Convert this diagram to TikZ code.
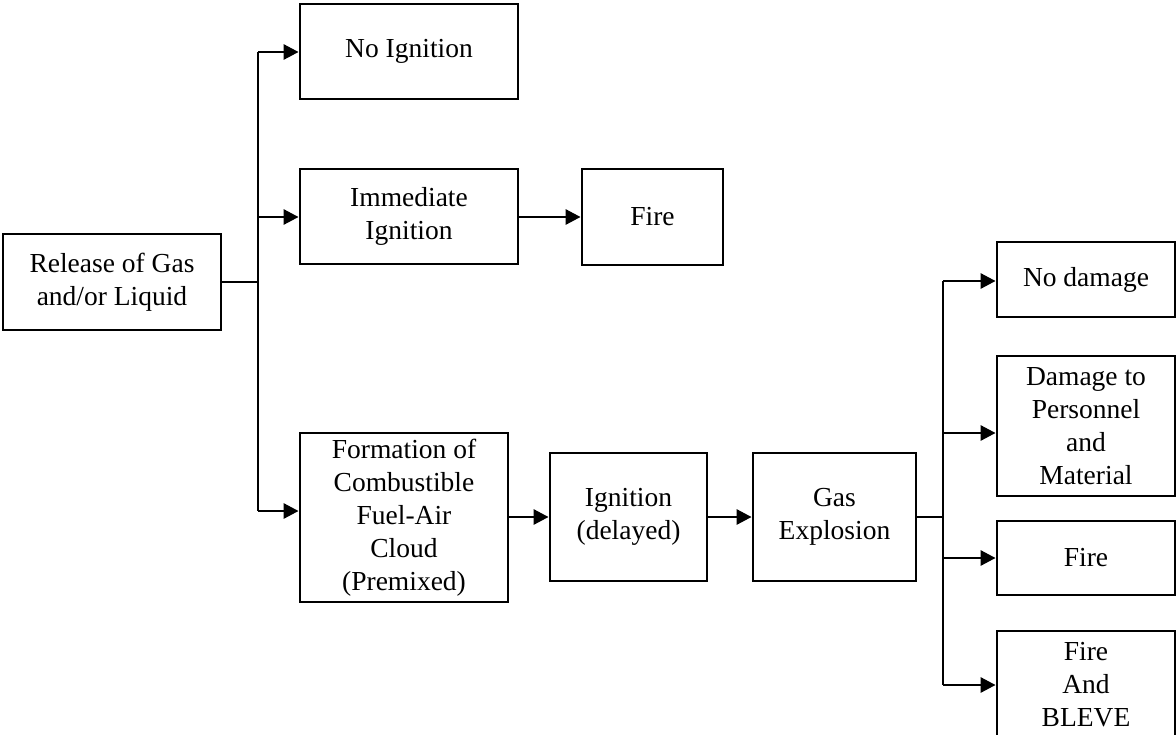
\documentclass[tikz,border=0pt]{standalone}
\usepackage{fontspec}
\setmainfont{Liberation Serif}
\usetikzlibrary{arrows.meta,positioning}

\tikzset{
  box/.style={draw, line width=2.8pt, rectangle, inner sep=0pt, align=center,
    font=\fontsize{27.5}{33}\selectfont},
  link/.style={line width=2.8pt},
  arrowlink/.style={line width=2.8pt, -{Triangle[length=15pt,width=15pt]}}
}

\begin{document}
\begin{tikzpicture}[x=1pt, y=-1pt]
  \fill[white] (0,0) rectangle (1176,734);
  \useasboundingbox (0,0) rectangle (1176,734);

  % event boxes
  \node[box, minimum width=218pt, minimum height=96pt] (rel) at (112,282)
    {Release of Gas\\and/or Liquid};
  \node[box, minimum width=218pt, minimum height=95pt] (noign) at (409,51.5)
    {No Ignition};
  \node[box, minimum width=218pt, minimum height=95pt] (immed) at (409,216.5)
    {Immediate\\Ignition};
  \node[box, minimum width=141pt, minimum height=96pt] (fireA) at (652.5,217)
    {Fire};
  \node[box, minimum width=208pt, minimum height=169pt] (form) at (404,517.5)
    {Formation of\\Combustible\\Fuel-Air\\Cloud\\(Premixed)};
  \node[box, minimum width=157pt, minimum height=128pt] (igdel) at (628.5,517)
    {Ignition\\(delayed)};
  \node[box, minimum width=163pt, minimum height=128pt] (gasx) at (834.5,517)
    {Gas\\Explosion};
  \node[box, minimum width=178pt, minimum height=75pt] (nodam) at (1086,279.5)
    {No damage};
  \node[box, minimum width=178pt, minimum height=140pt] (dam) at (1086,426)
    {Damage to\\Personnel\\and\\Material};
  \node[box, minimum width=178pt, minimum height=74pt] (fireB) at (1086,558)
    {Fire};
  \node[box, minimum width=178pt, minimum height=108pt] (bleve) at (1086,685)
    {Fire\\And\\BLEVE};

  % branch points on the first trunk
  \coordinate (t1top) at (258,52);
  \coordinate (t1mid) at (258,217);
  \coordinate (t1src) at (258,282);
  \coordinate (t1bot) at (258,511);

  % branch points on the second trunk
  \coordinate (t2top) at (943,281);
  \coordinate (t2a) at (943,433);
  \coordinate (t2src) at (943,517);
  \coordinate (t2b) at (943,558);
  \coordinate (t2bot) at (943,685);

  % first fan-out
  \draw[link] (rel.east |- t1src) -- (t1src);
  \draw[link] (t1top) -- (t1bot);
  \draw[arrowlink] (t1top) -- (noign.west |- t1top);
  \draw[arrowlink] (t1mid) -- (immed.west |- t1mid);
  \draw[arrowlink] (t1bot) -- (form.west |- t1bot);

  % chains
  \draw[arrowlink] (immed.east |- fireA.west) -- (fireA.west);
  \draw[arrowlink] (form.east |- igdel.west) -- (igdel.west);
  \draw[arrowlink] (igdel.east) -- (gasx.west);

  % second fan-out
  \draw[link] (gasx.east |- t2src) -- (t2src);
  \draw[link] (t2top) -- (t2bot);
  \draw[arrowlink] (t2top) -- (nodam.west |- t2top);
  \draw[arrowlink] (t2a) -- (dam.west |- t2a);
  \draw[arrowlink] (t2b) -- (fireB.west |- t2b);
  \draw[arrowlink] (t2bot) -- (bleve.west |- t2bot);
\end{tikzpicture}
\end{document}
